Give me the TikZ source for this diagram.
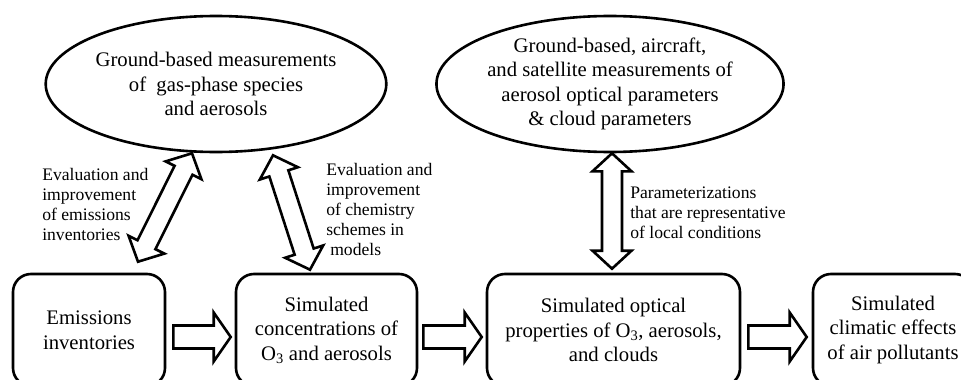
\documentclass[tikz,border=0pt]{standalone}
\usepackage{fontspec}
\setmainfont{Liberation Serif}
\usetikzlibrary{calc,shapes.geometric}
\newcommand\bigtext{\fontsize{20.7}{24.5}\selectfont}
\newcommand\smalltext{\fontsize{17.6}{20}\selectfont}
% fat outlined arrow between two named coordinates
\newcommand\fatgeom[2]{%
  \path let \p1=(#1), \p2=(#2) in \pgfextra{%
    \pgfmathsetmacro\fatang{atan2(\y2-\y1,\x2-\x1)}%
    \pgfmathsetmacro\fatlen{veclen(\x2-\x1,\y2-\y1)}%
    \global\let\fatang\fatang\global\let\fatlen\fatlen};%
}
% #1 tail, #2 tip, shaft half, head half, head length
\newcommand\fatsingle[5]{%
  \fatgeom{#1}{#2}%
  \draw[fatline, shift={(#1)}, rotate=\fatang]
    (0,#3) -- ({\fatlen-#5},#3) -- ({\fatlen-#5},#4) -- ({\fatlen},0)
    -- ({\fatlen-#5},-#4) -- ({\fatlen-#5},-#3) -- (0,-#3) -- cycle;%
}
\newcommand\fatdouble[5]{%
  \fatgeom{#1}{#2}%
  \draw[fatline, shift={(#1)}, rotate=\fatang]
    (0,0) -- (#5,#4) -- (#5,#3) -- ({\fatlen-#5},#3) -- ({\fatlen-#5},#4)
    -- ({\fatlen},0) -- ({\fatlen-#5},-#4) -- ({\fatlen-#5},-#3)
    -- (#5,-#3) -- (#5,-#4) -- cycle;%
}
\begin{document}
\begin{tikzpicture}[x=1pt,y=-1pt,
  line width=2.6pt,
  fatline/.style={draw, fill=white, line width=2.6pt, line join=miter},
  ellip/.style={draw, ellipse, minimum width=327pt, minimum height=136pt,
    inner sep=0pt, align=center, font=\bigtext},
  stagebox/.style={draw, rounded corners=18pt, minimum height=112pt,
    inner sep=0pt, align=center, font=\bigtext},
  lbl/.style={anchor=north west, inner sep=0pt, align=left, font=\smalltext}]
\useasboundingbox (0,0) rectangle (961,380);
\clip (0,0) rectangle (961,380);

\node[ellip] (ell1) at (216,84) {Ground-based measurements\\of\ \ gas-phase species\\and aerosols};
\node[ellip] (ell2) at (610,84) {Ground-based, aircraft,\\and satellite measurements of\\aerosol optical parameters\\\& cloud parameters};

\node[stagebox, minimum width=152pt] (emis) at (89,330) {Emissions\\inventories};
\node[stagebox, minimum width=181pt] (conc) at (326.5,330) {Simulated\\concentrations of\\O\textsubscript{3} and aerosols};
\node[stagebox, minimum width=253pt] (opt) at (613.5,330) {Simulated optical\\properties of O\textsubscript{3}, aerosols,\\and clouds};
\node[stagebox, minimum width=160pt] (clim) at (893,330) {Simulated\\climatic effects\\of air pollutants};

\node[lbl] (l1) at (41,167) {Evaluation and\\improvement\\of emissions\\inventories};
\node[lbl] (l2) at (325,162) {Evaluation and\\improvement\\of chemistry\\schemes in\\\hspace{4pt}models};
\node[lbl] (l3) at (629,186) {Parameterizations\\that are representative\\of local conditions};

% endpoints
\coordinate (aT) at ($(ell1.south)+(-24,0)$);
\coordinate (aB) at ($(emis.north)+(49,-11)$);
\coordinate (bT) at ($(ell1.south)+(57,2)$);
\coordinate (bB) at ($(conc.north)+(-16.5,-3)$);
\coordinate (cT) at ($(ell2.south)+(2,0)$);
\coordinate (cB) at ($(opt.north)+(-1.5,-4)$);
\coordinate (h1a) at ($(emis.east)+(7,7)$);
\coordinate (h1b) at ($(conc.west)+(-4,7)$);
\coordinate (h2a) at ($(conc.east)+(5,7)$);
\coordinate (h2b) at ($(opt.west)+(-4,7)$);
\coordinate (h3a) at ($(opt.east)+(7,7)$);
\coordinate (h3b) at ($(clim.west)+(-5,7)$);

\fatdouble{aT}{aB}{10}{20}{19}
\fatdouble{bT}{bB}{10}{20}{19}
\fatdouble{cT}{cB}{10}{19.5}{18}
\fatsingle{h1a}{h1b}{11.5}{24.5}{17}
\fatsingle{h2a}{h2b}{11.5}{24.5}{17}
\fatsingle{h3a}{h3b}{11.5}{24.5}{17}
\end{tikzpicture}
\end{document}
